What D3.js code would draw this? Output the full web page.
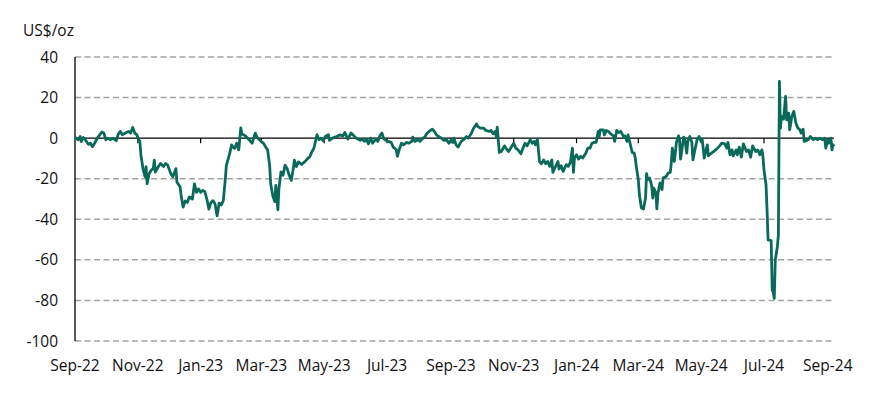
<!DOCTYPE html>
<html>
<head>
<meta charset="utf-8">
<script src="https://cdn.jsdelivr.net/npm/d3@7"></script>
<style>
  html, body { margin: 0; padding: 0; background: #fff; }
  svg { display: block; }
  text { font-family: "Open Sans", "Noto Sans", sans-serif; fill: #111; }
</style>
</head>
<body>
<svg id="chart" width="879" height="399"></svg>
<script>
// spread, US$/oz
var series2022 = [
  ["2022-09-01",0.5],["2022-09-02",0],["2022-09-04",-0.8],["2022-09-06",0.8],["2022-09-07",-1.7],
  ["2022-09-09",0.3],["2022-09-11",-0.8],["2022-09-14",-3],["2022-09-16",-2.5],["2022-09-18",-4.2],
  ["2022-09-20",-2.5],["2022-09-23",0.3],["2022-09-27",3],["2022-09-29",2.5],["2022-10-01",-0.8],
  ["2022-10-03",0],["2022-10-05",-0.8],["2022-10-08",0],["2022-10-11",-1.3],["2022-10-13",2],
  ["2022-10-15",3.3],["2022-10-17",1.7],["2022-10-20",2.5],["2022-10-23",3.3],["2022-10-25",2.5],
  ["2022-10-27",5.3],["2022-10-29",2.5],["2022-10-31",1.7],["2022-11-01",0.3],["2022-11-03",-1.7],
  ["2022-11-04",-8.3],["2022-11-06",-15],["2022-11-08",-19],["2022-11-09",-14],["2022-11-10",-22.5],
  ["2022-11-12",-17.5],["2022-11-14",-15.8],["2022-11-16",-15],["2022-11-17",-10.8],["2022-11-18",-16.7],
  ["2022-11-21",-14],["2022-11-23",-12.5],["2022-11-26",-14],["2022-11-28",-12.5],["2022-11-30",-13.3],
  ["2022-12-03",-17.5],["2022-12-05",-19],["2022-12-08",-15],["2022-12-09",-21.7],["2022-12-12",-24],
  ["2022-12-13",-28],["2022-12-15",-34],["2022-12-17",-31],["2022-12-19",-31.7],["2022-12-21",-29],
  ["2022-12-24",-30],["2022-12-26",-22.5],["2022-12-28",-26.7],["2022-12-30",-25]
];
var series2023 = [
  ["2023-01-01",-26.7],["2023-01-03",-25.8],["2023-01-05",-26.3],["2023-01-07",-30],["2023-01-09",-35],
  ["2023-01-11",-31.7],["2023-01-13",-30.8],["2023-01-15",-32.5],["2023-01-17",-38.3],["2023-01-19",-32],
  ["2023-01-21",-33],["2023-01-23",-30.8],["2023-01-25",-20],["2023-01-26",-13.3],["2023-01-29",-8],
  ["2023-01-31",-3.3],["2023-02-01",-4.2],["2023-02-03",-5],["2023-02-05",-2.5],["2023-02-07",-5.8],
  ["2023-02-09",5],["2023-02-10",2],["2023-02-13",1.3],["2023-02-15",0.3],["2023-02-18",-1.3],
  ["2023-02-20",-2.5],["2023-02-23",2.5],["2023-02-25",0.3],["2023-02-27",-0.8],["2023-03-03",-2.5],
  ["2023-03-05",-4.2],["2023-03-07",-5.8],["2023-03-09",-13.3],["2023-03-10",-22.5],["2023-03-12",-28.3],
  ["2023-03-14",-31.3],["2023-03-15",-23.3],["2023-03-17",-35.3],["2023-03-18",-25],["2023-03-20",-16.7],
  ["2023-03-22",-18.3],["2023-03-24",-13.3],["2023-03-26",-15],["2023-03-28",-18.3],["2023-03-30",-20.8],
  ["2023-04-01",-15],["2023-04-02",-10.8],["2023-04-04",-14],["2023-04-06",-11.7],["2023-04-09",-13],
  ["2023-04-12",-11.7],["2023-04-15",-10],["2023-04-17",-9.2],["2023-04-19",-6.7],["2023-04-21",-5],
  ["2023-04-24",1.7],["2023-04-26",-0.8],["2023-04-28",0],["2023-04-30",-1.3],["2023-05-02",0.8],
  ["2023-05-05",1.7],["2023-05-06",-1.1],["2023-05-07",-0.8],["2023-05-09",0],["2023-05-13",0.8],
  ["2023-05-16",1.6],["2023-05-19",1.1],["2023-05-21",2.8],["2023-05-24",-0.5],["2023-05-27",2.5],
  ["2023-05-29",1.6],["2023-06-01",0],["2023-06-05",-1.1],["2023-06-07",-0.5],["2023-06-09",-1.6],
  ["2023-06-11",-0.5],["2023-06-13",-2.8],["2023-06-15",0],["2023-06-17",-2.5],["2023-06-20",-0.5],
  ["2023-06-22",-1.6],["2023-06-24",1.1],["2023-06-26",2.5],["2023-06-28",-0.5],["2023-06-30",-1.1],
  ["2023-07-02",-1.6],["2023-07-05",-2.1],["2023-07-07",-4.4],["2023-07-10",-5.7],["2023-07-11",-9],
  ["2023-07-13",-5.4],["2023-07-15",-2.5],["2023-07-17",-3.3],["2023-07-20",-2.1],["2023-07-22",-2.5],
  ["2023-07-25",-1.6],["2023-07-26",0.5],["2023-07-28",-1.6],["2023-07-31",-0.8],["2023-08-02",-1.6],
  ["2023-08-04",-0.5],["2023-08-07",0.8],["2023-08-09",2.5],["2023-08-11",3.3],["2023-08-14",4.4],
  ["2023-08-16",3.3],["2023-08-18",1.6],["2023-08-20",0.8],["2023-08-23",0],["2023-08-25",-1.1],
  ["2023-08-28",-0.8],["2023-08-30",-2.5],["2023-09-01",-1.1],["2023-09-03",-2.1],["2023-09-04",0],
  ["2023-09-06",-3.3],["2023-09-08",-4.4],["2023-09-11",-1.6],["2023-09-14",-0.5],["2023-09-16",0.8],
  ["2023-09-18",0],["2023-09-21",2.5],["2023-09-23",4.9],["2023-09-26",7],["2023-09-27",5.7],
  ["2023-09-30",4.9],["2023-10-03",4.9],["2023-10-05",3.8],["2023-10-08",3.3],["2023-10-10",3.8],
  ["2023-10-12",2.1],["2023-10-14",3.3],["2023-10-15",0.8],["2023-10-16",5.4],["2023-10-18",-7],
  ["2023-10-20",-6.6],["2023-10-23",-3.8],["2023-10-25",-5.4],["2023-10-27",-6.6],["2023-10-30",-4.1],
  ["2023-11-01",-2.5],["2023-11-03",-4.9],["2023-11-05",-5.7],["2023-11-08",-7.7],["2023-11-10",-4.9],
  ["2023-11-12",-2.5],["2023-11-14",-3.8],["2023-11-17",-0.8],["2023-11-19",-2.5],["2023-11-21",-1.6],
  ["2023-11-22",-3.3],["2023-11-24",-0.5],["2023-11-26",-11.5],["2023-11-28",-12.6],["2023-11-30",-10.7],
  ["2023-12-02",-12.6],["2023-12-04",-11.5],["2023-12-06",-13.9],["2023-12-08",-10.7],["2023-12-09",-16.9],
  ["2023-12-12",-13.6],["2023-12-14",-11.5],["2023-12-15",-15.2],["2023-12-17",-13.6],["2023-12-19",-16.4],
  ["2023-12-22",-13.1],["2023-12-24",-13.9],["2023-12-26",-12],["2023-12-28",-4.9],["2023-12-29",-16.9],
  ["2023-12-30",-9.8]
];
var series2024 = [
  ["2024-01-01",-8.2],["2024-01-03",-10.3],["2024-01-05",-9],["2024-01-07",-9.8],["2024-01-10",-7.4],
  ["2024-01-12",-4.9],["2024-01-14",-4.9],["2024-01-16",-2.5],["2024-01-18",-2.1],["2024-01-20",-2.1],
  ["2024-01-22",3.3],["2024-01-23",0.8],["2024-01-24",4.1],["2024-01-27",4.1],["2024-01-28",1.6],
  ["2024-01-30",3.8],["2024-02-01",3.3],["2024-02-03",2.1],["2024-02-06",1.1],["2024-02-07",-1.6],
  ["2024-02-09",3.8],["2024-02-11",2.8],["2024-02-13",3.3],["2024-02-16",0.5],["2024-02-17",1.1],
  ["2024-02-19",-1.6],["2024-02-20",1.6],["2024-02-22",-2.5],["2024-02-24",-7],["2024-02-26",-7.4],
  ["2024-02-27",-9.8],["2024-02-28",-13.9],["2024-03-01",-20.5],["2024-03-02",-27.9],["2024-03-04",-34.4],
  ["2024-03-06",-34.9],["2024-03-08",-29.5],["2024-03-09",-17.5],["2024-03-10",-20.5],["2024-03-12",-19.7],
  ["2024-03-14",-23.4],["2024-03-15",-29.5],["2024-03-16",-24.6],["2024-03-18",-27],["2024-03-19",-34.9],
  ["2024-03-20",-27.4],["2024-03-22",-22.1],["2024-03-24",-25.4],["2024-03-25",-19.7],["2024-03-28",-18.9],
  ["2024-03-30",-17.2],["2024-04-01",-16.9],["2024-04-02",-12.3],["2024-04-03",-4.9],["2024-04-05",-11.5],
  ["2024-04-07",-2.1],["2024-04-09",1.1],["2024-04-10",-0.5],["2024-04-11",-10.3],["2024-04-14",0.5],
  ["2024-04-15",0],["2024-04-17",-7.4],["2024-04-18",-1.6],["2024-04-20",0.8],["2024-04-22",-2.1],
  ["2024-04-23",-10.7],["2024-04-25",-5.7],["2024-04-27",-0.8],["2024-04-29",0.8],["2024-05-01",-1.6],
  ["2024-05-02",-0.5],["2024-05-04",-9.8],["2024-05-05",-7.4],["2024-05-07",-3.3],["2024-05-08",-8.7],
  ["2024-05-11",-7.4],["2024-05-13",-6.6],["2024-05-16",-5.4],["2024-05-19",-3.8],["2024-05-21",-2.5],
  ["2024-05-24",-2.8],["2024-05-26",-4.9],["2024-05-27",-2.1],["2024-05-29",-8.2],["2024-05-31",-5.8],
  ["2024-06-01",-8.7],["2024-06-04",-5.8],["2024-06-05",-8.2],["2024-06-07",-4.4],["2024-06-09",-9.4],
  ["2024-06-11",-2.8],["2024-06-14",-6.6],["2024-06-16",-5.8],["2024-06-18",-9.4],["2024-06-20",-3.8],
  ["2024-06-23",-6.6],["2024-06-25",-5.8],["2024-06-27",-8.2],["2024-06-29",-5.8],["2024-06-30",-9],
  ["2024-07-01",-15.6],["2024-07-03",-23],["2024-07-04",-35.4],["2024-07-05",-50.2],["2024-07-08",-50.5],
  ["2024-07-09",-74.8],["2024-07-10",-76],["2024-07-11",-79],["2024-07-12",-60],["2024-07-14",-53.5],
  ["2024-07-15",-47.7],["2024-07-16",28],["2024-07-17",4.9],["2024-07-18",10.7],["2024-07-20",9.4],
  ["2024-07-22",20.6],["2024-07-23",9],["2024-07-25",12.3],["2024-07-26",4.1],["2024-07-28",10.7],
  ["2024-07-30",13.2],["2024-08-01",7.4],["2024-08-03",4.9],["2024-08-05",4.1],["2024-08-06",2.5],
  ["2024-08-08",4.4],["2024-08-09",-1.6],["2024-08-11",-1.2],["2024-08-13",-0.8],["2024-08-15",0.8],
  ["2024-08-18",-0.8],["2024-08-20",0],["2024-08-22",-0.8],["2024-08-24",0],["2024-08-27",-0.8],
  ["2024-08-29",0],["2024-08-30",-4.9],["2024-09-01",-0.8],["2024-09-02",-2.5],["2024-09-04",0],
  ["2024-09-05",-5.8],["2024-09-06",-3.3],["2024-09-07",-4.1]
];
var yTicks = [40, 20, 0, -20, -40, -60, -80, -100];
var xTickDates = ["2022-09-01","2022-11-01","2023-01-01","2023-03-01","2023-05-01","2023-07-01",
  "2023-09-01","2023-11-01","2024-01-01","2024-03-01","2024-05-01","2024-07-01","2024-09-01"];
var unitLabel = "US$/oz";

var parse = d3.timeParse("%Y-%m-%d");
var data = series2022.concat(series2023, series2024).map(function(d){
    return {date: parse(d[0]), value: d[1]};
});

var svg = d3.select("#chart");
var x0 = 75, x1 = 834, yTop = 57, yBot = 341;

var x = d3.scaleTime()
    .domain([parse("2022-09-01"), parse("2024-09-07")])
    .range([x0, x1]);
var y = d3.scaleLinear()
    .domain([-100, 40])
    .range([yBot, yTop]);

// dashed gridlines (not at zero)
svg.append("g").selectAll("line.grid")
    .data(yTicks.filter(function(v){ return v !== 0; }))
    .enter().append("line")
    .attr("class", "grid")
    .attr("x1", x0).attr("x2", x1 - 1)
    .attr("y1", function(v){ return y(v); })
    .attr("y2", function(v){ return y(v); })
    .style("stroke", "#a3a3a3")
    .style("stroke-width", 1.5)
    .style("stroke-dasharray", "6,3.5");

// y labels
svg.append("g").selectAll("text.ylab")
    .data(yTicks)
    .enter().append("text")
    .attr("class", "ylab")
    .attr("x", 58)
    .attr("y", function(v){ return y(v); })
    .attr("dy", "0.36em")
    .attr("text-anchor", "end")
    .style("font-size", "15.5px")
    .text(function(v){ return v; });

svg.append("text")
    .attr("x", 23).attr("y", 36)
    .style("font-size", "15.5px")
    .text(unitLabel);

// y axis line
svg.append("line")
    .attr("x1", x0).attr("x2", x0)
    .attr("y1", yTop).attr("y2", yBot)
    .style("stroke", "#000").style("stroke-width", 1.3);

// zero line with small ticks
svg.append("line")
    .attr("x1", x0).attr("x2", x1)
    .attr("y1", y(0)).attr("y2", y(0))
    .style("stroke", "#000").style("stroke-width", 1.2);

var tickDates = xTickDates.map(parse);
svg.append("g").selectAll("line.xtick")
    .data(tickDates.slice(1))
    .enter().append("line")
    .attr("x1", function(d){ return x(d); })
    .attr("x2", function(d){ return x(d); })
    .attr("y1", y(0)).attr("y2", y(0) + 5)
    .style("stroke", "#000").style("stroke-width", 1.2);

// x labels
svg.append("g").selectAll("text.xlab")
    .data(tickDates)
    .enter().append("text")
    .attr("class", "xlab")
    .attr("x", function(d){ return x(d); })
    .attr("y", 371)
    .attr("text-anchor", "middle")
    .style("font-size", "15.5px")
    .text(function(d){ return d3.timeFormat("%b-%y")(d); });

// the series
var line = d3.line()
    .x(function(d){ return x(d.date); })
    .y(function(d){ return y(d.value); });

svg.append("path")
    .datum(data)
    .attr("d", line)
    .style("fill", "none")
    .style("stroke", "#0a6a5a")
    .style("stroke-width", 2.8)
    .style("stroke-linejoin", "round");
</script>
</body>
</html>
